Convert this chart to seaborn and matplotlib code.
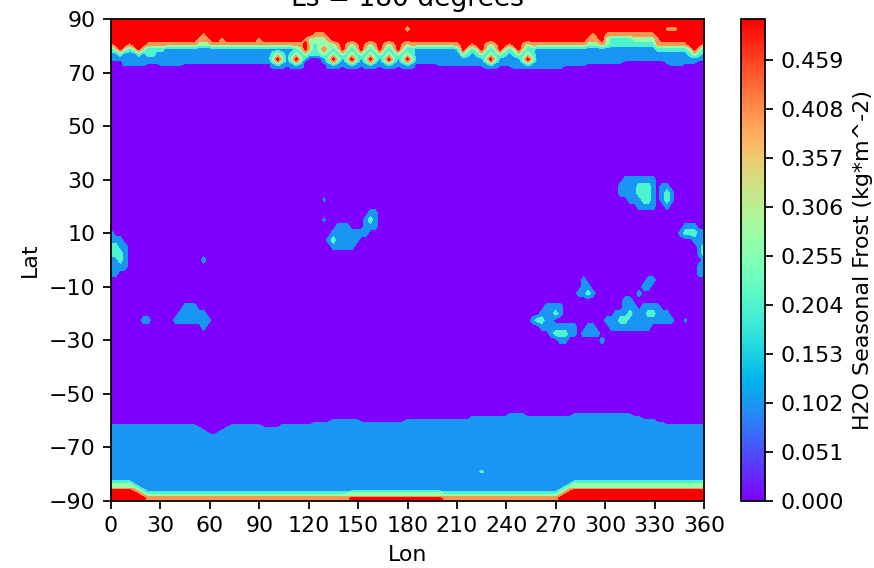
import numpy as np
import matplotlib
matplotlib.use("Agg")
import matplotlib.pyplot as plt
from matplotlib.cm import ScalarMappable
from matplotlib.colors import Normalize
import seaborn as sns

W, H, DPI = 874, 568, 159

# frost, one digit per 2.8125 deg of longitude, 0.1 kg/m2 per unit
# (each block of 16 digits is 45 deg, "." is a faint speck)
lon_step = 2.8125

north_lat = [90, 88.125, 86.25, 84.375, 82.5, 80.625, 78.75, 76.875, 75, 74, 73, 72, 71]
north_rows = [
    "5555555555555555 5555555555555555 5555555555555555 5555555555555555 5555555555555555 5555555555555555 5555555555555555 5555555555555555",
    "5555555555555555 5555555555555555 5555555555555555 5555555555555555 5555555555555555 5555555555555555 5555555555555555 5555555555555555",
    "5555555555555555 5555555555555555 5555555555555555 5555555555555555 3555555555555555 5555555555555555 5555555555555555 5555555544455555",
    "5555555555555555 5555455555555555 5555555555554445 5555555555555555 5555555555555555 5555555555555555 5555555545544444 4444445555555555",
    "5555555555555555 5554445545555555 4555555555433334 5555555555555555 5555555555555555 5555555555555555 5555555444532222 2333334555555555",
    "4555455544444444 4443334444444444 4444444444532333 3454345434543454 3444444444445545 5434554554344444 4444444333432222 2222224444444555",
    "2353235322221111 1111111111111111 1111111123532343 2353235323532353 2211111111125323 5323532353221111 1111111111111111 1111112222222353",
    "1121112122111111 1111111111111111 1112321232322232 3232323232323232 3211111111113212 3232321232321111 1111111111111111 1111111111111232",
    "1111111111111111 1111111111111111 1113531353100013 5313531353135313 5311111111111111 1353111113531111 1111111111111111 1111111111111111",
    "0001111111111111 1111111111111111 1112421242000012 4212421242124212 4211111111111111 1242111112421111 1111111111111110 0000000011111110",
    "0001111100011111 0000000000000000 0001211121000001 2111211121112111 2100000111111111 1121111111211111 1111111000000000 0000000001110000",
    "0000000000000000 0000000000000000 0001110111000001 1101110111011101 1100000000000000 0111000111111111 1100000000000000 0000000000000000",
    "0000000000000000 0000000000000000 0000000000000000 0000000000000000 0000000000000000 0000000000000000 0000000000000000 0000000000000000",
]

mid_lat = [32.5, 30, 27.5, 25, 22.5, 20, 17.5, 15, 12.5, 10, 7.5, 5, 2.5, 0, -2.5, -5, -7.5, -10,
           -12.5, -15, -17.5, -20, -22.5, -25, -27.5, -30, -32.5]
mid_rows = [
    "0000000000000000 0000000000000000 0000000000000000 0000000000000000 0000000000000000 0000000000000000 0000000000000000 0000000000000000",
    "0000000000000000 0000000000000000 0000000000000000 0000000000000000 0000000000000000 0000000000000000 0000000000000001 1111110000000000",
    "0000000000000000 0000000000000000 0000000000000000 0000000000000000 0000000000000000 0000000000000000 0000000000000011 1122210110000000",
    "0000000000000000 0000000000000000 0000000000000000 0000000000000000 0000000000000000 0000000000000000 0000000000000011 1122210121000000",
    "0000000000000000 0000000000000000 00000000000000.0 0000000000000000 0000000000000000 0000000000000000 0000000000000000 1112210121000000",
    "0000000000000000 0000000000000000 0000000000000000 0000000000000000 0000000000000000 0000000000000000 0000000000000000 0011110010000000",
    "0000000000000000 0000000000000000 0000000000000000 0000000011000000 0000000000000000 0000000000000000 0000000000000000 0000000000000000",
    "0000000000000000 0000000000000000 00000000000000.0 0000000121000000 0000000000000000 0000000000000000 0000000000000000 0000000000000000",
    "0000000000000000 0000000000000000 0000000000000000 0111000111000000 0000000000000000 0000000000000000 0000000000000000 0000000000001110",
    "1000000000000000 0000000000000000 0000000000000000 1111111100000000 0000000000000000 0000000000000000 0000000000000000 0000000000012221",
    "1110000000000000 0000000000000000 0000000000000001 2111110000000000 0000000000000000 0000000000000000 0000000000000000 0000000000000011",
    "2211000000000000 0000000000000000 0000000000000000 1111100000000000 0000000000000000 0000000000000000 0000000000000000 0000000000000001",
    "2221000000000000 0000000000000000 0000000000000000 0000000000000000 0000000000000000 0000000000000000 0000000000000000 0000000000000001",
    "1121000000000000 0000100000000000 0000000000000000 0000000000000000 0000000000000000 0000000000000000 0000000000000000 0000000000000000",
    "1111000000000000 0000000000000000 0000000000000000 0000000000000000 0000000000000000 0000000000000000 0000000000000000 0000000000000001",
    "1100000000000000 0000000000000000 0000000000000000 0000000000000000 0000000000000000 0000000000000000 0000000000000000 0000000000000001",
    "0000000000000000 0000000000000000 0000000000000000 0000000000000000 0000000000000000 0000000000000000 0000001000000000 0000110000000000",
    "0000000000000000 0000000000000000 0000000000000000 0000000000000000 0000000000000000 0000000000000000 0000001100000000 0001100000000000",
    "0000000000000000 0000000000000000 0000000000000000 0000000000000000 0000000000000000 0000000000000000 0000011210000000 0010000000000000",
    "0000000000000000 0000000000000000 0000000000000000 0000000000000000 0000000000000000 0000000000000000 0000000000000001 1000000000000000",
    "0000000000000000 1110000000000000 0000000000000000 0000000000000000 0000000000000000 0000000000000011 1100000000000001 1101111000000000",
    "0000000000000001 1111100000000000 0000000000000000 0000000000000000 0000000000000000 0000000000000111 2100000000000111 2111221110000000",
    "0000000110000011 1111110000000000 0000000000000000 0000000000000000 0000000000000000 0000000000012211 0000000000011122 111111111100.000",
    "0000000000000000 0000100000000000 0000000000000000 0000000000000000 0000000000000000 0000000000000111 1111100110001111 1111100000000000",
    "0000000000000000 0000000000000000 0000000000000000 0000000000000000 0000000000000000 0000000000000001 2221101111000000 0000000000000000",
    "0000000000000000 0000000000000000 0000000000000000 0000000000000000 0000000000000000 0000000000000000 0110000000100000 0000000000000000",
    "0000000000000000 0000000000000000 0000000000000000 0000000000000000 0000000000000000 0000000000000000 0000000000000000 0000000000000000",
]

south_lat = [-57, -58, -59, -60, -61, -62, -63, -64, -65, -66, -78, -79, -80, -82, -83, -84, -85, -86, -87, -88, -89, -90]
south_rows = [
    "0000000000000000 0000000000000000 0000000000000000 0000000000000000 0000000000000000 0000000000000000 0000000000000000 0000000000000000",
    "0000000000000000 0000000000000000 0000000000000000 0000000000000000 0000000000000000 0000001111000000 0000111111111111 1000000000000000",
    "0000000000000000 0000000000000000 0000000000000000 0000000000000000 0000000000000011 1111111111111111 1111111111111111 1110000000000000",
    "0000000000000000 0000000000000000 0000000000000000 1111110000000000 1111111111111111 1111111111111111 1111111111111111 1111110000000000",
    "0000000000000000 0000000000000000 0000000000001111 1111111111111111 1111111111111111 1111111111111111 1111111111111111 1111111100000000",
    "1111111111111111 1110000000111111 1000011111111111 1111111111111111 1111111111111111 1111111111111111 1111111111111111 1111111111111111",
    "1111111111111111 1111000001111111 1111111111111111 1111111111111111 1111111111111111 1111111111111111 1111111111111111 1111111111111111",
    "1111111111111111 1111100011111111 1111111111111111 1111111111111111 1111111111111111 1111111111111111 1111111111111111 1111111111111111",
    "1111111111111111 1111110111111111 1111111111111111 1111111111111111 1111111111111111 1111111111111111 1111111111111111 1111111111111111",
    "1111111111111111 1111111111111111 1111111111111111 1111111111111111 1111111111111111 1111111111111111 1111111111111111 1111111111111111",
    "1111111111111111 1111111111111111 1111111111111111 1111111111111111 1111111111111111 1111111111111111 1111111111111111 1111111111111111",
    "1111111111111111 1111111111111111 1111111111111111 1111111111111111 1111111111111111 2111111111111111 1111111111111111 1111111111111111",
    "1111111111111111 1111111111111111 1111111111111111 1111111111111111 1111111111111111 1111111111111111 1111111111111111 1111111111111111",
    "1111111111111111 1111111111111111 1111111111111111 1111111111111111 1111111111111111 1111111111111111 1111111111111111 1111111111111111",
    "2222211111111111 1111111111111111 1111111111111111 1111111111111111 1111111111111111 1111111111111111 1111222222222222 2222222222222222",
    "3333321111111111 1111111111111111 1111111111111111 1111111111111111 1111111111111111 1111111111111111 1112333333333333 3333333333333333",
    "3333332111111111 1111111111111111 1111111111111111 1111111111111111 1111111111111111 1111111111111111 1123333333333333 3333333333333333",
    "5555543211111111 1111111111111111 1111111111111111 1111111111111111 1111111111111111 1111111111111111 1234555555555555 5555555555555555",
    "5555554322222222 2222222222222222 2222222222222222 2222333333333333 3333333322222222 2222222222222222 2345555555555555 5555555555555555",
    "5555555433333333 3333333333333333 3333333333333333 3333333333333333 3333333333333333 3333333333333333 3455555555555555 5555555555555555",
    "5555555544444444 4444444444444444 4444444444444444 4444555555555555 5555555544444444 4444444444444444 4555555555555555 5555555555555555",
    "5555555544444444 4444444444444444 4444444444444444 4444555555555555 5555555544444444 4444444444444444 4555555555555555 5555555555555555",
]

frost_levels = [0, 0.05, 0.15, 0.25, 0.35, 0.45, 0.51]
band_positions = [0, 0.2, 0.4, 0.55, 0.8, 1.0]
cbar_ticks = [0, 0.051, 0.102, 0.153, 0.204, 0.255, 0.306, 0.357, 0.408, 0.459]
cbar_top = 0.5017
lon_ticks = [0, 30, 60, 90, 120, 150, 180, 210, 240, 270, 300, 330, 360]
lat_ticks = [-90, -70, -50, -30, -10, 10, 30, 50, 70, 90]


def parse_rows(rows):
    table = []
    for row in rows:
        digits = row.replace(" ", "")
        assert len(digits) == 128, row
        values = [0.07 if c == "." else int(c) * 0.1 for c in digits]
        table.append(values + values[:1])  # 360 is the same meridian as 0
    return table


sns.set_style("ticks", rc={
    "font.family": ["DejaVu Sans"],
    "text.color": "black",
    "axes.labelcolor": "black",
    "axes.edgecolor": "black",
    "xtick.color": "black",
    "ytick.color": "black",
})

lat = np.array(north_lat + mid_lat + south_lat, dtype=float)
frost = np.array(parse_rows(north_rows + mid_rows + south_rows))
lon = np.arange(frost.shape[1]) * lon_step
order = np.argsort(lat)

rainbow = sns.color_palette("rainbow", as_cmap=True)
band_colors = [rainbow(p) for p in band_positions]

fig = plt.figure(figsize=(W / DPI, H / DPI), dpi=DPI)
ax = fig.add_axes([111 / W, 1 - 501 / H, 593 / W, 482 / H])
cax = fig.add_axes([741 / W, 1 - 501 / H, 24 / W, 482 / H])

ax.contourf(lon, lat[order], frost[order], levels=frost_levels, colors=band_colors)
ax.set_xticks(lon_ticks)
ax.set_yticks(lat_ticks)
ax.set_xlim(0, 360)
ax.set_ylim(-90, 90)
ax.set_xlabel("Lon")
ax.set_ylabel("Lat")
ax.set_title("Ls = 180 degrees")

sm = ScalarMappable(norm=Normalize(0, cbar_top), cmap=rainbow)
cbar = fig.colorbar(sm, cax=cax, ticks=cbar_ticks, format="%.3f")
cbar.set_label("H2O Seasonal Frost (kg*m^-2)")

fig.savefig("out.png", dpi=DPI)
